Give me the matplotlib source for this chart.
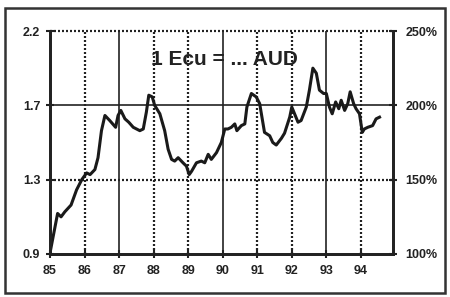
import matplotlib
matplotlib.use("Agg")
import matplotlib.pyplot as plt
from matplotlib.patches import Rectangle

years = [85.0, 85.22, 85.32, 85.43, 85.61, 85.77, 85.92, 86.06, 86.16, 86.30, 86.39, 86.49,
         86.59, 86.73, 86.90, 86.97, 87.05, 87.17, 87.28, 87.41, 87.60, 87.70, 87.79, 87.86,
         87.96, 88.03, 88.18, 88.32, 88.42, 88.52, 88.61, 88.71, 88.85, 88.95, 89.03, 89.10,
         89.24, 89.38, 89.48, 89.58, 89.67, 89.82, 89.96, 90.06, 90.15, 90.25, 90.35, 90.41,
         90.54, 90.64, 90.70, 90.83, 90.97, 91.07, 91.21, 91.36, 91.45, 91.55, 91.70, 91.79,
         91.94, 92.00, 92.08, 92.18, 92.27, 92.42, 92.51, 92.61, 92.71, 92.80, 92.92, 93.00,
         93.09, 93.17, 93.27, 93.36, 93.43, 93.53, 93.62, 93.69, 93.79, 93.86, 93.96, 94.04,
         94.10, 94.20, 94.34, 94.44, 94.54]
rate = [0.886, 1.12, 1.10, 1.13, 1.17, 1.26, 1.32, 1.36, 1.35, 1.38, 1.45, 1.61,
        1.70, 1.67, 1.63, 1.70, 1.73, 1.68, 1.66, 1.63, 1.61, 1.62, 1.72, 1.82,
        1.81, 1.76, 1.71, 1.61, 1.50, 1.44, 1.43, 1.45, 1.42, 1.40, 1.35, 1.37,
        1.42, 1.43, 1.42, 1.47, 1.44, 1.48, 1.54, 1.62, 1.62, 1.63, 1.65, 1.61,
        1.64, 1.65, 1.75, 1.83, 1.81, 1.77, 1.60, 1.58, 1.54, 1.525, 1.565, 1.595,
        1.69, 1.75, 1.71, 1.66, 1.67, 1.75, 1.85, 1.98, 1.95, 1.85, 1.83, 1.83,
        1.75, 1.71, 1.78, 1.74, 1.79, 1.73, 1.77, 1.84, 1.77, 1.74, 1.71, 1.60,
        1.62, 1.63, 1.64, 1.68, 1.69]

x_ticks = [85, 86, 87, 88, 89, 90, 91, 92, 93, 94]
x_labels = ["85", "86", "87", "88", "89", "90", "91", "92", "93", "94"]
y_ticks = [0.88, 1.32, 1.76, 2.2]
y_labels = ["0.9", "1.3", "1.7", "2.2"]
pct_labels = ["100%", "150%", "200%", "250%"]
title = "1 Ecu = ... AUD"

plt.rcParams['font.family'] = ['Liberation Sans', 'DejaVu Sans']

fig = plt.figure(figsize=(4.5, 2.97), dpi=100)
ax = fig.add_axes([50/450, 1-254/297, (393-50)/450, (254-31)/297])

ax.set_xlim(85, 94.93)
ax.set_ylim(0.88, 2.2)

dot = (0, (0.9, 0.9))
# grid
for xv in x_ticks[1:]:
    if xv in (87, 90, 93):
        ax.axvline(xv, color='#222222', lw=1.2, zorder=1)
    else:
        ax.axvline(xv, color='#222222', lw=1.6, ls=dot, zorder=1)
for yv in y_ticks[1:]:
    if yv == 1.76:
        ax.axhline(yv, color='#222222', lw=1.2, zorder=1)
    else:
        ax.axhline(yv, color='#222222', lw=1.6, ls=dot, zorder=1, clip_on=False)

ax.plot(years, rate, color='#1a1a1a', lw=2.2, zorder=3, solid_joinstyle='round')

ax.set_xticks(x_ticks)
ax.set_xticklabels(x_labels, fontsize=9, fontweight='bold', color='#222222')
ax.set_yticks(y_ticks)
ax.set_yticklabels(y_labels, fontsize=9, fontweight='bold', color='#222222')
ax.tick_params(axis='both', direction='inout', length=6, width=1.5, color='#222222')
ax.tick_params(axis='x', pad=5)
ax.tick_params(axis='y', pad=4)

ax2 = ax.twinx()
ax2.set_ylim(0.88, 2.2)
ax2.set_yticks(y_ticks)
ax2.set_yticklabels(pct_labels, fontsize=9, fontweight='bold', color='#222222')
ax2.tick_params(axis='y', direction='inout', length=6, width=1.5, color='#222222', pad=6)

for a in (ax, ax2):
    for s in ('left', 'bottom', 'right'):
        a.spines[s].set_linewidth(2.0)
        a.spines[s].set_color('#222222')
    a.spines['top'].set_visible(False)

ax.text(90.06, 2.03, title, fontsize=15, fontweight='bold', ha='center', va='center',
        color='#222222', zorder=4)

fig.patches.append(Rectangle((5/450, 1-293/297), 440/450, 285/297, transform=fig.transFigure,
                             fill=False, lw=1.8, edgecolor='#333333'))

fig.savefig('out.png', dpi=100)
